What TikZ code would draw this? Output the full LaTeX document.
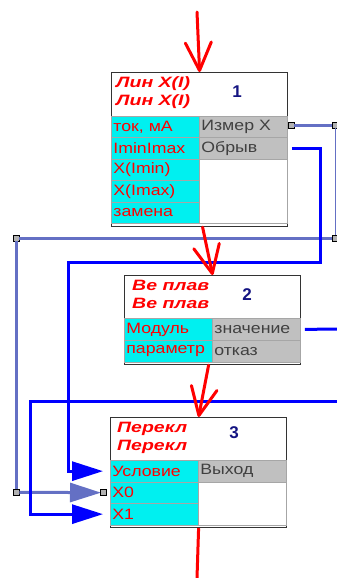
\documentclass[tikz,border=0pt]{standalone}
\usepackage{fontspec}
\setmainfont{Liberation Sans}
\newfontfamily\cellfont[FakeStretch=1.18]{Liberation Sans}
\newfontfamily\titlefont[FakeStretch=1.3]{Liberation Sans}
\usetikzlibrary{arrows.meta,positioning}
\definecolor{cellcyan}{RGB}{0,240,240}
\definecolor{cellgray}{RGB}{192,192,192}
\definecolor{wireblue}{RGB}{0,0,255}
\definecolor{wireslate}{RGB}{100,112,196}
\definecolor{numnavy}{RGB}{20,20,130}
\definecolor{outtext}{RGB}{64,64,64}
\tikzset{
  blockframe/.style={draw=black!80,fill=white,line width=1.2pt,anchor=north west,minimum width=176pt,minimum height=#1,inner sep=0pt},
  cellin/.style={draw=black!35,line width=0.8pt,fill=cellcyan,text=red,font={\cellfont\fontsize{15}{16}\selectfont},anchor=north west,text width=84pt,align=left,inner xsep=2pt,inner ysep=0pt,minimum height=#1},
  cellout/.style={cellin=#1,fill=cellgray,text=outtext},
  cellblank/.style={draw=black!35,line width=0.8pt,fill=white,anchor=north west,minimum width=88pt,minimum height=#1,inner sep=0pt},
  blocktitle/.style={anchor=west,align=left,text=red,inner sep=0pt,font={\titlefont\fontsize{15}{18}\selectfont\bfseries\itshape}},
  blocknum/.style={text=numnavy,inner sep=0pt,font={\fontsize{17}{17}\selectfont\bfseries}},
  portsq/.style={draw=black,fill=black!30,line width=0.8pt,minimum size=6pt,inner sep=0pt},
}
\begin{document}
\begin{tikzpicture}[x=1pt,y=-1pt,
    bluewire/.style={draw=wireblue,line width=3pt},
    slatewire/.style={draw=wireslate,line width=3pt},
    flow/.style={draw=red,line width=3pt,line cap=round,-{Straight Barb[length=28pt,width=26pt,round]}},
    pintip/.style={-{Triangle[length=31pt,width=19pt]}},
  ]
  \useasboundingbox (0,0) rectangle (337,578);

  %---- block 1 -------------------------------
  \node[blockframe=154pt] (blk1) at (111,72) {};
  \node[blocktitle] (t1) at (116,92.5) {Лин X(I)\\Лин X(I)};
  \node[blocknum] (n1) at (237,92) {1};
  \node[cellin=21.4pt] (c1a) at (111,116) {ток, мА};
  \node[cellout=21.4pt] (c1b) at (199,116) {Измер X};
  \node[cellin=21.4pt] (c1c) at (111,137.4) {IminImax};
  \node[cellout=21.4pt] (c1d) at (199,137.4) {Обрыв};
  \node[cellin=21.4pt] (c1e) at (111,158.8) {X(Imin)};
  \node[cellin=21.4pt] (c1f) at (111,180.2) {X(Imax)};
  \node[cellin=21.4pt] (c1g) at (111,201.6) {замена};
  \node[cellblank=64.2pt] (c1h) at (199,158.8) {};

  %---- block 2 -------------------------------
  \node[blockframe=89pt] (blk2) at (124,275) {};
  \node[blocktitle] (t2) at (132,294.5) {Ве плав\\Ве плав};
  \node[blocknum] (n2) at (247,295) {2};
  \node[cellin=22pt] (c2a) at (124,318) {Модуль};
  \node[cellout=22pt] (c2b) at (212,318) {значение};
  \node[cellin=22pt] (c2c) at (124,340) {параметр};
  \node[cellout=22pt] (c2d) at (212,340) {отказ};

  %---- block 3 -------------------------------
  \node[blockframe=110pt] (blk3) at (110,417) {};
  \node[blocktitle] (t3) at (117,437.5) {Перекл\\Перекл};
  \node[blocknum] (n3) at (234,433) {3};
  \node[cellin=21.5pt] (c3a) at (110,460) {Условие};
  \node[cellout=21.5pt] (c3b) at (198,460) {Выход};
  \node[cellin=21.5pt] (c3c) at (110,481.5) {X0};
  \node[cellin=21.5pt] (c3e) at (110,503) {X1};
  \node[cellblank=43pt] (c3f) at (198,481.5) {};

  %---- wire bends and free ends -------------
  \node[portsq] (p1a) at (291,125) {};
  \node[portsq] (ja) at (335,125) {};
  \node[portsq] (jb) at (335,238) {};
  \node[portsq] (jc) at (16,238) {};
  \node[portsq] (jd) at (16,492.25) {};
  \coordinate (r1) at (320,262);
  \coordinate (l1) at (68,262);
  \coordinate (v2out) at (337,329);
  \coordinate (x1in) at (337,401);
  \coordinate (l2) at (30,401);
  \coordinate (in1) at (197,12);
  \coordinate (out3) at (197,578);

  %---- links ---------------------------------
  \draw[slatewire] (p1a) -- (ja);
  \draw[slatewire,line width=1pt] (ja) -- (jb);
  \draw[slatewire] (jb) -- (jc) -- (jd);
  \draw[slatewire,pintip] (jd) -- ([xshift=-9pt]c3c.west);
  \node[portsq] (p3c) at ([xshift=-7pt]c3c.west) {};
  \draw[bluewire,pintip] ([xshift=4pt]c1d.east) -| (r1) -- (l1) |- ([xshift=-7pt]c3a.west);
  \draw[bluewire] ([xshift=4pt]c2b.east) -- (v2out);
  \draw[bluewire,pintip] (x1in) -- (l2) |- ([xshift=-7pt]c3e.west);

  %---- main flow -----------------------------
  \draw[flow] (in1) -- (blk1.north);
  \draw[flow] ([xshift=3pt]blk1.south) -- (blk2.north);
  \draw[flow] ([xshift=-4pt]blk2.south) -- (blk3.north);
  \draw[draw=red,line width=3pt] (blk3.south) -- (out3);
\end{tikzpicture}
\end{document}
